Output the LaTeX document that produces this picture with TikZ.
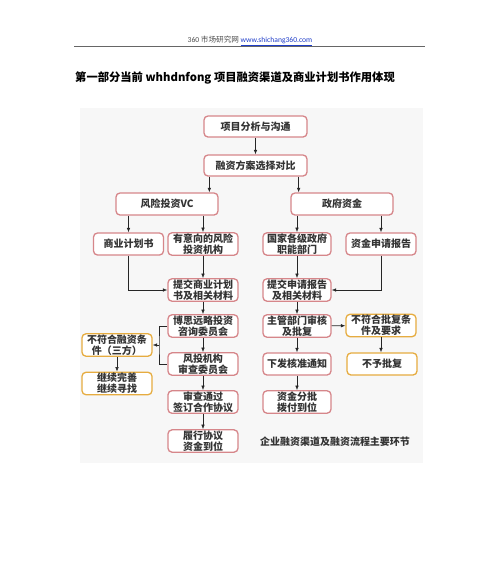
\documentclass[tikz,border=0pt]{standalone}
\usepackage{fontspec}
\setmainfont{Carlito}
\newfontfamily\cjk{Noto Sans CJK SC}
\usetikzlibrary{arrows.meta}
\definecolor{boxred}{RGB}{214,134,138}
\definecolor{boxorange}{RGB}{230,172,64}
\definecolor{linkblue}{RGB}{30,60,200}
\begin{document}
\begin{tikzpicture}[
x=1pt,y=-1pt,
>={Latex[length=4.5pt,width=3.5pt]},
every node/.style={font=\cjk\bfseries\fontsize{10}{10.8}\selectfont,text=black!80,align=center,inner sep=1pt},
box/.style={draw=boxred,line width=1.3pt,rounded corners=4pt,fill=white,minimum width=70,minimum height=22},
widebox/.style={box,minimum width=102},
warnbox/.style={box,draw=boxorange},
flow/.style={->,black!85,line width=0.6pt}
]
\useasboundingbox (0,0) rectangle (500,566);
\fill[black!3] (80,108) rectangle (423,463);
% page header
\node[font=\fontsize{7.6}{8.5}\selectfont,text=black!70] (head) at (250,41)
  {360 {\cjk 市场研究网} \textcolor{linkblue}{\underline{www.shichang360.com}}};
\draw[black!60,line width=0.6pt] (74,46) -- (425,46);
\node[font=\cjk\bfseries\fontsize{11.3}{13}\selectfont,text=black,anchor=west] (title) at (74,78)
  {第一部分当前 whhdnfong 项目融资渠道及商业计划书作用体现};
% boxes
\node[widebox,minimum width=103,minimum height=21] (1) at (255.5,126.5) {项目分析与沟通};
\node[widebox,minimum width=103,minimum height=21] (2) at (255.5,165.5) {融资方案选择对比};
\node[widebox] (3) at (167,204) {风险投资VC};
\node[widebox] (4) at (342,204) {政府资金};
\node[box] (5) at (128.5,244) {商业计划书};
\node[box] (6) at (203,244) {有意向的风险\\投资机构};
\node[box,minimum width=68] (7) at (297,244) {国家各级政府\\职能部门};
\node[box] (8) at (381,244) {资金申请报告};
\node[box] (9) at (203,290) {提交商业计划\\书及相关材料};
\node[box,minimum width=68] (10) at (297,290) {提交申请报告\\及相关材料};
\node[box] (11) at (203,326) {博思远略投资\\咨询委员会};
\node[box] (12) at (203,364) {风投机构\\审查委员会};
\node[box] (13) at (203,402) {审查通过\\签订合作协议};
\node[box] (14) at (203,441) {履行协议\\资金到位};
\node[warnbox] (15) at (117,345) {不符合融资条\\件（三方）};
\node[warnbox] (16) at (117,383.5) {继续完善\\继续寻找};
\node[box,minimum width=68] (17) at (297,326) {主管部门审核\\及批复};
\node[warnbox] (18) at (381,325.5) {不符合批复条\\件及要求};
\node[warnbox] (19) at (382,364) {不予批复};
\node[box,minimum width=68] (20) at (297,364) {下发核准通知};
\node[box,minimum width=68] (21) at (297,402) {资金分批\\拨付到位};
\node (cap) at (335,442) {企业融资渠道及融资流程主要环节};
% connectors
\draw[flow] (1) -- (2);
\draw[flow] ([xshift=6]2.south west) -- ([xshift=6]2.south west |- 3.north);
\draw[flow] ([xshift=-9]2.south east) -- ([xshift=-9]2.south east |- 4.north);
\draw[flow] (3.south -| 5.north) -- (5.north);
\draw[flow] (3.south -| 6.north) -- (6.north);
\draw[flow] (4.south -| 7.north) -- (7.north);
\draw[flow] (4.south -| 8.north) -- (8.north);
\draw[flow] (5.south) |- (9.west);
\draw[flow] (6) -- (9);
\draw[flow] (7) -- (10);
\draw[flow] (8.south) |- (10.east);
\draw[flow] (9) -- (11);
\draw[flow] (11) -- (12);
\draw[flow] (12) -- (13);
\draw[flow] (13) -- (14);
\coordinate (split) at (159,345);
\draw[black!85,line width=0.6pt] (11.west) -| (split) |- (12.west);
\draw[flow] (split) -- (15.east);
\draw[flow] (15) -- (16);
\draw[flow] (10) -- (17);
\draw[flow] (17) -- (18);
\draw[flow] (18.south) -- (18.south |- 19.north);
\draw[flow] (17) -- (20);
\draw[flow] (20) -- (21);
\end{tikzpicture}
\end{document}
